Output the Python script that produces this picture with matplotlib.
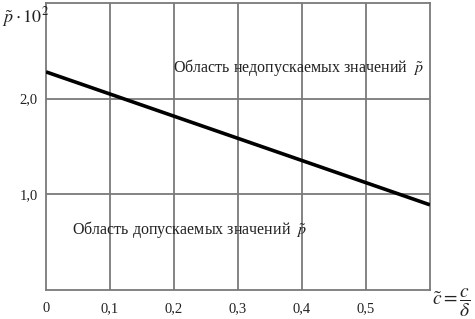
import matplotlib
matplotlib.use("Agg")
import matplotlib.pyplot as plt

# data
c_vals = [0.0, 0.6]
p_vals = [2.28, 0.89]
x_ticks = [0, 0.1, 0.2, 0.3, 0.4, 0.5]
x_tick_labels = ["0", "0,1", "0,2", "0,3", "0,4", "0,5"]
y_ticks = [1.0, 2.0]
y_tick_labels = ["1,0", "2,0"]

plt.rcParams['font.family'] = ['Liberation Serif', 'DejaVu Serif']
plt.rcParams['mathtext.fontset'] = 'stix'

fig = plt.figure(figsize=(4.75, 3.19), dpi=100)
ax = fig.add_axes([46/475, 29/319, 384/475, 287/319])
ax.set_xlim(0, 0.6)
ax.set_ylim(0, 3.0)

grid_col = '#7a7a7a'
for x in x_ticks[1:]:
    ax.axvline(x, color=grid_col, lw=1.3, zorder=1)
for y in y_ticks:
    ax.axhline(y, color=grid_col, lw=1.3, zorder=1)

ax.plot(c_vals, p_vals, color='black', lw=2.6, zorder=3, solid_capstyle='butt')

for s in ax.spines.values():
    s.set_color(grid_col)
    s.set_linewidth(1.3)

ax.set_xticks(x_ticks)
ax.set_xticklabels(x_tick_labels)
ax.set_yticks(y_ticks)
ax.set_yticklabels(y_tick_labels)
ax.tick_params(length=0, labelsize=10.5, colors='#222222')
ax.tick_params(axis='x', pad=9)
ax.tick_params(axis='y', pad=6)
for lbl in ax.get_xticklabels():
    if lbl.get_text() == "0":
        lbl.set_x(-0.006)

fig.text(2/475, 1 - 17/319, r'$\tilde{p}\cdot 10^{2}$', fontsize=13, ha='left', va='center', color='#222222')
fig.text(432/475, 1 - 303/319, r'$\tilde{c} = \dfrac{c}{\delta}$', fontsize=14, ha='left', va='center', color='#222222')

ax.text(0.394, 2.33, r'Область недопускаемых значений  $\tilde{p}$', fontsize=11.5, ha='center', va='center', color='#222222')
ax.text(0.225, 0.63, r'Область допускаемых значений  $\tilde{p}$', fontsize=11.5, ha='center', va='center', color='#222222')

fig.savefig('out.png', dpi=100)
